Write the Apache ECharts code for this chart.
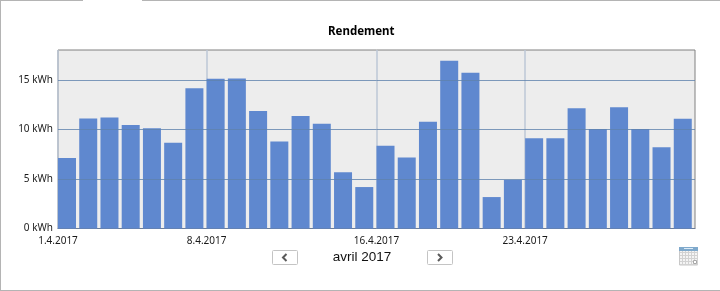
<!DOCTYPE html>
<html>
<head>
<meta charset="utf-8">
<style>
html, body { margin: 0; padding: 0; background: #fff; }
#main { width: 720px; height: 291px; }
</style>
<script src="https://cdn.jsdelivr.net/npm/echarts@6/dist/echarts.min.js"></script>
</head>
<body>
<div id="main"></div>
<script>
// rendement par jour, avril 2017 (kWh)
const yields = [7.12, 11.1, 11.2, 10.43, 10.1, 8.65, 14.15, 15.1, 15.13, 11.85,
  8.78, 11.35, 10.57, 5.67, 4.18, 8.34, 7.16, 10.77, 16.92, 15.7,
  3.17, 4.9, 9.09, 9.09, 12.13, 10.03, 12.23, 10.03, 8.2, 11.07];
const dayTicks = [0, 7, 15, 22];
const dayLabels = ["1.4.2017", "8.4.2017", "16.4.2017", "23.4.2017"];
const kwhTicks = [0, 5, 10, 15];
const title = "Rendement";
const monthLabel = "avril 2017";

const myChart = echarts.init(document.getElementById("main"), null, { renderer: "canvas" });

// bars sit at the left of each day slot, not centred on it
const barWidth = 18;
const slot = 637 / yields.length;
const barOffset = barWidth / 2 / slot;
const barData = yields.map((v, i) => [i + barOffset, v]);

const frame = "#b4b4b4";
const btn = (x, points) => ({
  type: "group",
  children: [
    { type: "rect", shape: { x: x + 0.5, y: 250.5, width: 25, height: 14, r: 1 },
      style: { fill: "#fff", stroke: "#c4c4c4", lineWidth: 1 } },
    { type: "polyline", shape: { points: points },
      style: { fill: null, stroke: "#5a5a5a", lineWidth: 2 } }
  ]
});

const calRows = [];
for (let r = 0; r < 5; r++) {
  calRows.push({ type: "line", shape: { x1: 680, y1: 252.5 + r * 3, x2: 697, y2: 252.5 + r * 3 },
    style: { stroke: "#d2d2d2", lineWidth: 1 } });
}
const calCols = [];
for (let c = 0; c < 6; c++) {
  calCols.push({ type: "line", shape: { x1: 682.5 + c * 3, y1: 251, x2: 682.5 + c * 3, y2: 265 },
    style: { stroke: "#d2d2d2", lineWidth: 1 } });
}

myChart.setOption({
  animation: false,
  backgroundColor: "#fff",
  title: {
    text: title,
    left: 323,
    top: 21,
    textStyle: { fontFamily: "Noto Sans", fontSize: 11.5, fontWeight: "bold", color: "#000" }
  },
  grid: {
    left: 58, right: 25, top: 50, bottom: 62.5,
    show: true, backgroundColor: "#ededed", borderColor: "#808080", borderWidth: 1
  },
  xAxis: {
    type: "value",
    min: 0,
    max: yields.length,
    axisLine: { show: true, onZero: false, lineStyle: { color: "#6b7d99", width: 1 } },
    axisTick: { show: false, customValues: dayTicks },
    axisLabel: {
      customValues: dayTicks,
      margin: 8,
      color: "#1a1a1a",
      fontFamily: "Noto Sans",
      fontSize: 10,
      formatter: v => dayLabels[dayTicks.indexOf(v)]
    },
    splitLine: { show: true, lineStyle: { color: "#bcc7d6", width: 1.5 } }
  },
  yAxis: {
    type: "value",
    min: 0,
    max: 18,
    axisLine: { show: false },
    axisTick: { show: false, customValues: kwhTicks },
    axisLabel: {
      customValues: kwhTicks,
      margin: 5,
      color: "#1a1a1a",
      fontFamily: "Noto Sans",
      fontSize: 10,
      formatter: "{value} kWh"
    },
    splitLine: { show: false }
  },
  series: [{
    name: title,
    type: "bar",
    barWidth: barWidth,
    data: barData,
    itemStyle: { color: "#5f88cf" },
    // the horizontal grid lines run over the bars
    markLine: {
      silent: true,
      symbol: "none",
      label: { show: false },
      lineStyle: { type: "solid", color: "#5f82ad", width: 1, opacity: 0.8 },
      data: kwhTicks.slice(1).map(v => ({ yAxis: v }))
    }
  }],
  graphic: [
    // tab frame
    { type: "line", shape: { x1: 0, y1: 0.5, x2: 83, y2: 0.5 }, style: { stroke: frame, lineWidth: 1 } },
    { type: "line", shape: { x1: 142, y1: 0.5, x2: 720, y2: 0.5 }, style: { stroke: frame, lineWidth: 1 } },
    { type: "line", shape: { x1: 0.5, y1: 0, x2: 0.5, y2: 291 }, style: { stroke: frame, lineWidth: 1 } },
    { type: "line", shape: { x1: 0, y1: 290.5, x2: 720, y2: 290.5 }, style: { stroke: frame, lineWidth: 1 } },
    // month navigation
    btn(272, [[286.5, 254], [283, 257.5], [286.5, 261]]),
    btn(427, [[438, 254], [441.5, 257.5], [438, 261]]),
    { type: "text", style: { x: 362, y: 257, text: monthLabel, align: "center", verticalAlign: "middle",
      fontFamily: "Liberation Sans", fontSize: 13.5, fill: "#111" } },
    // calendar icon
    { type: "rect", shape: { x: 679.5, y: 247.5, width: 18, height: 17.5 }, style: { fill: "#f4f4f4", stroke: "#c8c8c8", lineWidth: 1 } },
    ...calRows,
    ...calCols,
    { type: "rect", shape: { x: 679, y: 247, width: 19, height: 4 }, style: { fill: "#7fa9cc" } },
    { type: "rect", shape: { x: 684, y: 248, width: 9, height: 1 }, style: { fill: "#dcebf7" } },
    { type: "rect", shape: { x: 693.5, y: 260.5, width: 3, height: 3 }, style: { fill: "#fff", stroke: "#a8a8a8", lineWidth: 1 } }
  ]
});
</script>
</body>
</html>
